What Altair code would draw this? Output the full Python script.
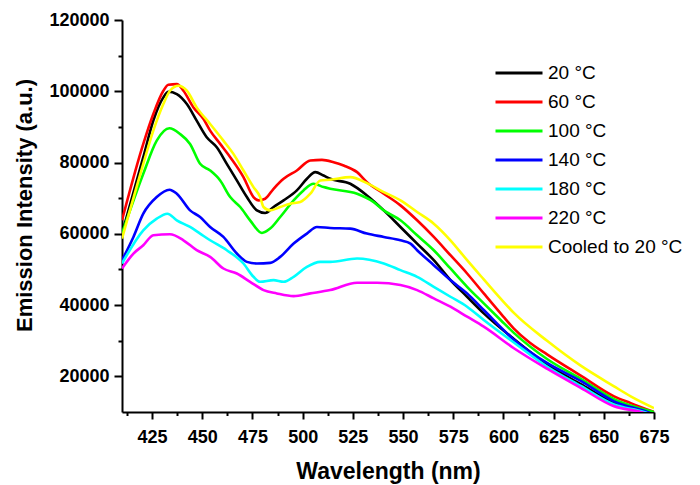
import altair as alt
import pandas as pd

FONT = "Liberation Sans, Arial, Helvetica, sans-serif"

series_labels = ["20 °C", "60 °C", "100 °C", "140 °C", "180 °C", "220 °C", "Cooled to 20 °C"]
series_colors = ["#000000", "#FF0000", "#00FF00", "#0000FF", "#00FFFF", "#FF00FF", "#FFFF00"]

wl_20 = [410, 420.6, 425.6, 430.6, 433.1, 437.3, 442.3, 447.2, 452.2, 457.2, 462.2, 467.2, 472.2, 477.2, 481.3, 485.5,
         490.5, 497.1, 502.1, 506.3, 510.4, 513.7, 523.7, 532.0, 540.4, 548.7, 557.0, 565.3, 573.6, 581.9, 590.2, 605.2,
         621.9, 638.5, 655.1, 668.4, 675]
int_20 = [60060, 81500, 91760, 98280, 99870, 99220, 96420, 91760, 87100, 84300, 79640, 74980, 70310, 66580, 65840, 67520,
          69380, 72180, 75440, 77310, 76370, 75440, 74040, 70780, 66590, 61920, 57260, 52600, 47010, 42340, 37680, 30500,
          23300, 17800, 12510, 10000, 8500]

wl_60 = [410, 420.6, 425.6, 430.6, 433.1, 437.3, 440.6, 445.6, 450.6, 453.9, 458.9, 463.9, 470.5, 475.5, 478.0, 481.3,
         485.5, 490.5, 497.1, 503.8, 509.6, 515.4, 520.4, 527.1, 532.0, 540.4, 548.7, 557.0, 565.3, 573.6, 581.9, 590.2,
         598.6, 605.2, 613.0, 621.9, 638.5, 655.1, 663.4, 675]
int_60 = [63800, 85230, 93620, 100150, 101830, 102010, 100150, 95480, 92220, 88960, 85230, 81500, 75910, 70310, 69380,
          69850, 72640, 75440, 77770, 80570, 80750, 80100, 79170, 77310, 74510, 71250, 67980, 63790, 59130, 54000, 48870,
          43280, 37680, 33400, 29500, 26100, 20200, 14400, 12500, 10000]

wl_100 = [410, 420.6, 427.3, 433.6, 438.9, 443.9, 448.9, 453.9, 458.9, 463.9, 468.9, 473.8, 479.7, 483.8, 488.8, 495.5,
          500.4, 505.4, 510.4, 513.7, 527.1, 535.4, 540.4, 548.7, 557.0, 565.3, 573.6, 581.9, 590.2, 598.6, 605.2, 621.9,
          638.5, 655.1, 675]
int_100 = [60060, 76840, 86160, 89610, 88030, 85230, 79640, 77770, 74980, 70310, 67520, 63790, 60240, 61460, 64720, 69380,
           72180, 74040, 73110, 72650, 71250, 68910, 66590, 63790, 59590, 55400, 50270, 45140, 40480, 35820, 32200, 24800,
           19300, 13600, 10000]

wl_140 = [410, 415.7, 420.6, 427.3, 433.6, 437.3, 443.9, 448.9, 453.9, 460.5, 467.2, 472.2, 477.2, 483.8, 488.8, 495.5,
          502.1, 507.1, 513.7, 523.7, 532.0, 540.4, 548.7, 553.7, 557.0, 565.3, 573.6, 581.9, 590.2, 605.2, 621.9, 638.5,
          655.1, 671.7, 675]
int_140 = [52600, 59130, 65650, 70310, 72370, 71250, 66580, 64720, 61920, 59130, 54470, 52130, 51670, 51850, 53530, 57260,
           60060, 61920, 61640, 61450, 60060, 59120, 58190, 57260, 55400, 51200, 47010, 43280, 38610, 30300, 23700, 18700,
           13000, 10000, 9300]

wl_180 = [410, 420.6, 427.3, 432.6, 437.3, 443.9, 448.9, 453.9, 462.2, 470.5, 475.5, 478.8, 485.5, 490.5, 495.5, 502.1,
          508.8, 513.7, 527.1, 540.4, 548.7, 557.0, 565.3, 573.6, 581.9, 590.2, 605.2, 621.9, 638.5, 655.1, 670, 675]
int_180 = [51670, 60990, 64250, 65650, 63790, 61920, 60060, 58190, 55400, 51670, 47940, 46540, 47010, 46540, 47940, 50740,
           52140, 52140, 53070, 51670, 49800, 47940, 45140, 42340, 39550, 35820, 29500, 22700, 17300, 12100, 10000, 9000]

wl_220 = [410, 415.7, 420.6, 425.6, 433.9, 440.6, 447.2, 453.9, 460.5, 467.2, 473.8, 480.5, 487.1, 495.5, 503.8, 513.7,
          527.1, 537.0, 548.7, 557.0, 565.3, 573.6, 581.9, 590.2, 605.2, 621.9, 638.5, 655.1, 668.4, 675]
int_220 = [50270, 54460, 56790, 59590, 59870, 58190, 55400, 53530, 50270, 48870, 46540, 44210, 43280, 42530, 43280, 44210,
           46260, 46260, 45610, 44210, 41880, 39550, 36750, 33950, 27900, 22100, 16800, 11600, 10000, 8800]

wl_cool = [410, 420.6, 425.6, 430.6, 433.9, 438.1, 442.3, 447.2, 453.9, 460.5, 465.5, 470.5, 475.5, 478.8, 480.5, 483.8,
           488.8, 493.8, 498.8, 503.8, 508.8, 513.7, 523.7, 532.0, 540.4, 548.7, 557.0, 565.3, 573.6, 581.9, 590.2, 598.6,
           605.2, 621.9, 638.5, 655.1, 663.4, 675]
int_cool = [58660, 79640, 88960, 96420, 100150, 101550, 100150, 95480, 90830, 86160, 82430, 77770, 73110, 70310, 67520,
            66580, 67520, 68450, 68920, 71250, 74980, 75160, 75910, 74230, 71710, 69380, 66120, 62850, 58190, 52600, 47200,
            41800, 37800, 29900, 23000, 17200, 14400, 11100]

x_major = [425, 450, 475, 500, 525, 550, 575, 600, 625, 650, 675]
x_minor = [412.5, 437.5, 462.5, 487.5, 512.5, 537.5, 562.5, 587.5, 612.5, 637.5, 662.5]
y_major = [20000, 40000, 60000, 80000, 100000, 120000]
y_minor = [30000, 50000, 70000, 90000, 110000]

all_series = [(series_labels[0], wl_20, int_20), (series_labels[1], wl_60, int_60),
              (series_labels[2], wl_100, int_100), (series_labels[3], wl_140, int_140),
              (series_labels[4], wl_180, int_180), (series_labels[5], wl_220, int_220),
              (series_labels[6], wl_cool, int_cool)]

rows = []
for name, wls, ints in all_series:
    for w, v in zip(wls, ints):
        rows.append({"series": name, "wl": w, "inten": v})
df = pd.DataFrame(rows)

chart = alt.Chart(df).mark_line(strokeWidth=2.6, clip=True, interpolate="monotone").encode(
    x=alt.X("wl:Q",
            scale=alt.Scale(domain=[410, 675], nice=False, zero=False),
            axis=alt.Axis(title="Wavelength (nm)", values=sorted(x_major + x_minor), format="d",
                          labelExpr="datum.value % 25 == 0 ? datum.label : ''",
                          tickSize={"condition": {"test": "datum.value % 25 == 0", "value": 7}, "value": 3.5},
                          labelFlush=False, labelOverlap=False,
                          labelPadding=9, titleFontSize=23, titleY=66, titleBaseline="alphabetic")),
    y=alt.Y("inten:Q",
            scale=alt.Scale(domain=[10000, 120000], nice=False, zero=False),
            axis=alt.Axis(title="Emission Intensity (a.u.)", values=sorted(y_major + y_minor), format="d",
                          labelExpr="datum.value % 20000 == 0 ? datum.label : ''",
                          tickSize={"condition": {"test": "datum.value % 20000 == 0", "value": 8}, "value": 4},
                          labelFlush=False, labelOverlap=False,
                          labelPadding=5, titleFontSize=22, titleX=-91, titleY=185,
                          titleAlign="center", titleBaseline="alphabetic")),
    color=alt.Color("series:N", sort=series_labels,
                    scale=alt.Scale(domain=series_labels, range=series_colors),
                    legend=alt.Legend(title=None, orient="none", legendX=372, legendY=43,
                                      symbolType="stroke", symbolSize=2209, symbolStrokeWidth=3,
                                      clipHeight=20, rowPadding=9, labelFontSize=19, labelFont=FONT,
                                      labelColor="#000000", labelOffset=4, padding=0)),
    order=alt.Order("wl:Q"),
).properties(
    width=532, height=392,
    autosize=alt.AutoSizeParams(type="none"),
    padding={"left": 114, "top": 12, "right": 38, "bottom": 72},
).configure_view(stroke=None).configure_axis(
    domainColor="#000000", domainWidth=2, tickColor="#000000", tickWidth=2,
    labelFont=FONT, labelFontSize=18, labelFontWeight="bold", labelColor="#000000",
    titleFont=FONT, titleFontWeight="bold", titleColor="#000000", grid=False,
)

chart.save("out.html", embed_options={"renderer": "svg", "actions": False})
